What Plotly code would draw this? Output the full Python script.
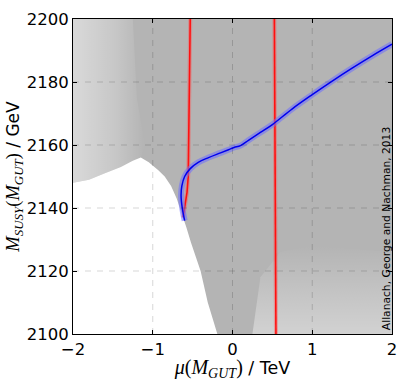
import plotly.graph_objects as go

# ---- data ----
# blue best-fit curve
blue_x = [-0.60, -0.63, -0.645, -0.635, -0.60, -0.53, -0.43, -0.30, -0.15, -0.05, 0.02, 0.10, 0.20, 0.35, 0.50, 0.75, 1.00, 1.25, 1.50, 1.75, 2.00]
blue_y = [2136, 2140, 2144, 2147, 2150, 2152.5, 2154.5, 2156, 2157.5, 2158.5, 2159.2, 2159.8, 2161.5, 2164, 2166.5, 2171.5, 2176, 2180.3, 2184.4, 2188.3, 2192]

# red vertical bands
red1_x = [-0.62, -0.60, -0.57, -0.555, -0.545, -0.535, -0.53]
red1_y = [2137, 2140, 2145, 2150, 2165, 2185, 2200]
red2_x = [0.545, 0.54, 0.535, 0.53, 0.525]
red2_y = [2100, 2125, 2150, 2175, 2200]

# boundary of the white (excluded) region, lower left
bound_x = [-2.0, -1.8, -1.6, -1.4, -1.25, -1.15, -1.05, -0.93, -0.85, -0.77, -0.70, -0.64, -0.58, -0.52, -0.46, -0.40, -0.31, -0.25, -0.19]
bound_y = [2148, 2149, 2151, 2153, 2155, 2156, 2154.5, 2152, 2150, 2147, 2143, 2138.6, 2134, 2129, 2124.5, 2120, 2110, 2105, 2100]

# sparse (speckled) regions
ul_x = [-2.0, -1.25, -1.2, -1.1, -1.15, -1.4, -1.6, -1.8, -2.0]
ul_y = [2200, 2200, 2175, 2160, 2156, 2153, 2151, 2149, 2148]
br_x = [0.25, 0.35, 0.6, 1.0, 1.5, 2.0, 2.0]
br_y = [2100, 2118, 2126, 2128, 2127, 2126, 2100]

x_ticks = [-2, -1, 0, 1, 2]
y_ticks = [2100, 2120, 2140, 2160, 2180, 2200]
grid_x = [-1, 0, 1]
grid_y = [2120, 2140, 2160, 2180]

credit = "Allanach, George and Nachman, 2013"

GRAY = "#b4b4b4"

fig = go.Figure()

# white excluded region
fig.add_trace(go.Scatter(x=bound_x, y=bound_y, mode="lines", line=dict(width=0, color="white"),
                         fill="tozeroy", fillcolor="white", hoverinfo="skip", showlegend=False))
# speckled regions approximated with gradients
fig.add_trace(go.Scatter(x=ul_x, y=ul_y, mode="lines", line=dict(width=0), fill="toself",
                         fillgradient=dict(type="horizontal",
                                           colorscale=[[0, "rgba(255,255,255,0.5)"], [0.6, "rgba(255,255,255,0.25)"], [1, "rgba(255,255,255,0)"]]),
                         hoverinfo="skip", showlegend=False))
fig.add_trace(go.Scatter(x=br_x, y=br_y, mode="lines", line=dict(width=0), fill="toself",
                         fillgradient=dict(type="vertical",
                                           colorscale=[[0, "rgba(255,255,255,0.4)"], [1, "rgba(255,255,255,0)"]]),
                         hoverinfo="skip", showlegend=False))

# red bands (halo + core)
for rx, ry in [(red1_x, red1_y), (red2_x, red2_y)]:
    fig.add_trace(go.Scatter(x=rx, y=ry, mode="lines", line=dict(color="rgba(255,80,80,0.4)", width=4),
                             hoverinfo="skip", showlegend=False))
    fig.add_trace(go.Scatter(x=rx, y=ry, mode="lines", line=dict(color="#ff1010", width=1.6),
                             hoverinfo="skip", showlegend=False))

# blue curve (halo + core)
fig.add_trace(go.Scatter(x=blue_x, y=blue_y, mode="lines", line=dict(color="rgba(110,110,255,0.55)", width=6, shape="spline"),
                         hoverinfo="skip", showlegend=False))
fig.add_trace(go.Scatter(x=blue_x, y=blue_y, mode="lines", line=dict(color="#0000ee", width=1.5, shape="spline"),
                         hoverinfo="skip", showlegend=False))

# dashed grid drawn above the data
shapes = []
for gx in grid_x:
    shapes.append(dict(type="line", xref="x", yref="paper", x0=gx, x1=gx, y0=0, y1=1, layer="above",
                       line=dict(color="rgba(0,0,0,0.16)", width=1, dash="6px,6px")))
for gy in grid_y:
    shapes.append(dict(type="line", xref="paper", yref="y", x0=0, x1=1, y0=gy, y1=gy, layer="above",
                       line=dict(color="rgba(0,0,0,0.16)", width=1, dash="6px,6px")))

MATH_Y = "font-family:Liberation Serif;font-size:18.5px"
MATH_X = "font-family:Liberation Serif;font-size:20px"
ytitle = (f"<span style='{MATH_Y}'><i>M</i><sub><i>SUSY</i></sub>(<i>M</i><sub><i>GUT</i></sub>)</span> / GeV")
xtitle = (f"<span style='{MATH_X}'><i>μ</i>(<i>M</i><sub><i>GUT</i></sub>)</span> / TeV")

fig.update_layout(
    width=407, height=381,
    margin=dict(l=73, r=10, t=13, b=47),
    paper_bgcolor="white", plot_bgcolor=GRAY,
    font=dict(family="DejaVu Sans", size=16.5, color="black"),
    shapes=shapes,
    annotations=[dict(text=credit, xref="paper", yref="paper", x=0.985, y=0.005, xanchor="center", yanchor="bottom",
                      textangle=-90, showarrow=False, font=dict(family="DejaVu Sans", size=10.7, color="black"))],
)
fig.update_xaxes(range=[-2, 2], tickvals=x_ticks, showgrid=False, zeroline=False,
                 ticks="inside", ticklen=4, tickcolor="black", mirror="ticks", showline=True, linecolor="black", linewidth=1,
                 title=dict(text=xtitle, standoff=0, font=dict(size=17.5)), layer="above traces")
fig.update_yaxes(range=[2100, 2200], tickvals=y_ticks, showgrid=False, zeroline=False,
                 ticks="inside", ticklen=4, tickcolor="black", mirror="ticks", showline=True, linecolor="black", linewidth=1,
                 title=dict(text=ytitle, standoff=2, font=dict(size=17)), layer="above traces")

fig.write_html("out.html", config=dict(displayModeBar=False),
               post_script="document.body.style.margin='0';document.body.style.overflow='hidden';")
